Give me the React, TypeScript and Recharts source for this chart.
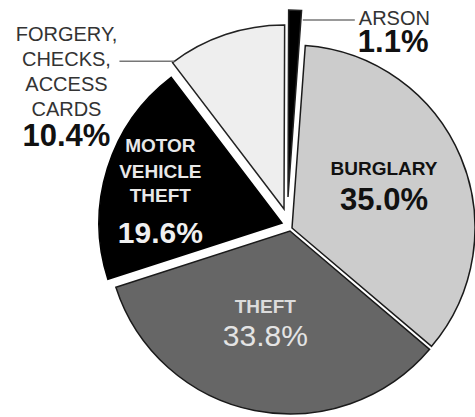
import { PieChart, Pie, Cell } from "recharts";

// crime categories, clockwise from 12 o'clock
const categories = [
  "ARSON",
  "BURGLARY",
  "THEFT",
  "MOTOR VEHICLE THEFT",
  "FORGERY, CHECKS, ACCESS CARDS",
];
const shares = [1.1, 35.0, 33.8, 19.6, 10.4];
const labelLines = [
  ["ARSON"],
  ["BURGLARY"],
  ["THEFT"],
  ["MOTOR", "VEHICLE", "THEFT"],
  ["FORGERY,", "CHECKS,", "ACCESS", "CARDS"],
];
const fills = ["#000000", "#cccccc", "#666666", "#000000", "#eeeeee"];

const data = categories.map((name, i) => ({ name, value: shares[i] }));

const FONT = "'Liberation Sans', Arial, Helvetica, sans-serif";
const RAD = Math.PI / 180;

// each slice gets its own pie so it can be pulled out from the others
const slices = [
  { idx: 1, cx: 292, cy: 228, r: 183, stroke: "#1a1a1a" },
  { idx: 2, cx: 290, cy: 231, r: 183, stroke: "#1a1a1a" },
  { idx: 3, cx: 282, cy: 223, r: 183, stroke: "#000000" },
  { idx: 4, cx: 284, cy: 209, r: 184, stroke: "#222222" },
  { idx: 0, cx: 288, cy: 197, r: 187, stroke: "#222222" },
];

const polar = (cx: number, cy: number, r: number, a: number) => ({
  x: cx + r * Math.cos(-a * RAD),
  y: cy + r * Math.sin(-a * RAD),
});

const pct = (v: number) => `${v.toFixed(1)}%`;

// inside labels: radius factor, angle tweak, line offsets, colours
const inside: Record<number, any> = {
  1: { k: 0.54, da: -1.4, offs: [-17], pOff: 18, color: "#111", pColor: "#111", pWeight: 700, size: 19, pSize: 31 },
  2: { k: 0.55, da: -3, offs: [-16], pOff: 17, color: "#dcdcdc", pColor: "#e4e4e4", pWeight: 400, size: 19, pSize: 30 },
  3: { k: 0.68, da: 5.3, offs: [-45, -19, 5], pOff: 46, color: "#e8e8e8", pColor: "#f0f0f0", pWeight: 700, size: 19, pSize: 30 },
};

const makeLabel = (i: number) => (props: any) => {
  if (props.index !== i) return null;
  const { cx, cy, outerRadius, midAngle } = props;
  const lines = labelLines[i];
  if (inside[i]) {
    const c = inside[i];
    const p = polar(cx, cy, outerRadius * c.k, midAngle + c.da);
    return (
      <g>
        {lines.map((t, j) => (
          <text key={j} x={p.x} y={p.y + c.offs[j]} textAnchor="middle" fill={c.color}
            fontFamily={FONT} fontWeight={700} fontSize={c.size}>
            {t}
          </text>
        ))}
        <text x={p.x} y={p.y + c.pOff} textAnchor="middle" fill={c.pColor}
          fontFamily={FONT} fontWeight={c.pWeight} fontSize={c.pSize}>
          {pct(shares[i])}
        </text>
      </g>
    );
  }
  if (i === 4) {
    // forgery: leader to the left
    const p = polar(cx, cy, outerRadius, midAngle + 18);
    const end = p.x - 55;
    const tx = end - 53;
    return (
      <g>
        <line x1={p.x} y1={p.y} x2={end} y2={p.y} stroke="#777" strokeWidth={1.5} />
        {lines.map((t, j) => (
          <text key={j} x={tx} y={p.y - 20 + j * 25} textAnchor="middle" fill="#333"
            fontFamily={FONT} fontSize={20}>
            {t}
          </text>
        ))}
        <text x={tx} y={p.y + 85} textAnchor="middle" fill="#111" fontFamily={FONT}
          fontWeight={700} fontSize={31}>
          {pct(shares[i])}
        </text>
      </g>
    );
  }
  // arson: leader to the right
  const p = polar(cx, cy, outerRadius * 0.95, midAngle - 2.6);
  const end = p.x + 52;
  return (
    <g>
      <line x1={p.x} y1={p.y} x2={end} y2={p.y} stroke="#777" strokeWidth={1.5} />
      <text x={end + 4} y={p.y + 5} textAnchor="start" fill="#333" fontFamily={FONT} fontSize={20}>
        {lines[0]}
      </text>
      <text x={end + 3} y={p.y + 32} textAnchor="start" fill="#111" fontFamily={FONT}
        fontWeight={700} fontSize={31}>
        {pct(shares[i])}
      </text>
    </g>
  );
};

export default function App() {
  return (
    <div style={{ position: "absolute", left: 0, top: 0, background: "#fff" }}>
      <PieChart width={475} height={417} margin={{ top: 0, right: 0, bottom: 0, left: 0 }}>
        {slices.map((s) => (
          <Pie
            key={s.idx}
            data={data}
            dataKey="value"
            nameKey="name"
            cx={s.cx}
            cy={s.cy}
            outerRadius={s.r}
            startAngle={89.8}
            endAngle={-270.2}
            isAnimationActive={false}
            label={makeLabel(s.idx)}
            labelLine={false}
          >
            {data.map((d, j) => (
              <Cell
                key={d.name}
                fill={j === s.idx ? fills[j] : "transparent"}
                stroke={j === s.idx ? s.stroke : "none"}
                strokeWidth={1.5}
              />
            ))}
          </Pie>
        ))}
      </PieChart>
    </div>
  );
}
